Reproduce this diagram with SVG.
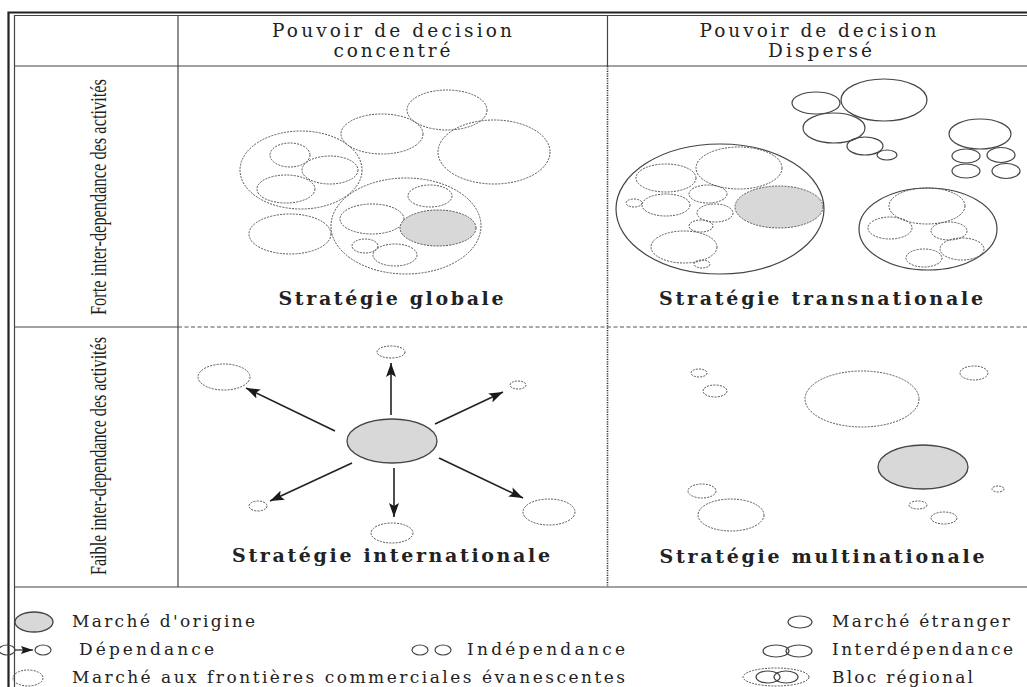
<svg xmlns="http://www.w3.org/2000/svg" width="1027" height="687" viewBox="0 0 1027 687">
  <style>
    .serif { font-family: "DejaVu Serif", "Liberation Serif", serif; fill: #222; }
    .narrow { font-family: "Liberation Serif", "DejaVu Serif", serif; fill: #1e1e1e; }
    .head { font-size: 18.5px; }
    .title { font-size: 19px; font-weight: bold; }
    .side { font-size: 24px; }
    .leg { font-size: 17px; }
    .dash { fill: none; stroke: #555; stroke-width: 1; stroke-dasharray: 2 1.2; }
    .solid { fill: none; stroke: #444; stroke-width: 1.2; }
    .home-d { fill: #d8d8d8; stroke: #555; stroke-width: 1; stroke-dasharray: 2 1.2; }
    .home-s { fill: #d8d8d8; stroke: #444; stroke-width: 1.3; }
    .arrow { stroke: #222; stroke-width: 1.6; fill: none; marker-end: url(#head); }
    .frame { stroke: #222; stroke-width: 2.2; fill: none; }
    .rule { stroke: #444; stroke-width: 1.2; fill: none; }
  </style>
  <defs>
    <marker id="head" markerUnits="userSpaceOnUse" markerWidth="15" markerHeight="10" refX="14" refY="5" orient="auto">
      <path d="M0,0 L14,5 L0,10 L3,5 z" fill="#1a1a1a"/>
    </marker>
    <marker id="head-sm" markerUnits="userSpaceOnUse" markerWidth="12" markerHeight="8" refX="12" refY="4" orient="auto">
      <path d="M0,0 L12,4 L0,8 L2,4 z" fill="#1a1a1a"/>
    </marker>
  </defs>
  <rect width="1027" height="687" fill="#ffffff"/>

  <!-- table frame and rules -->
  <g id="grid">
    <path class="frame" d="M8.5,687 V12.5 H1027"/>
    <path class="rule" d="M14.5,687 V15.5 H1027"/>
    <line class="rule" x1="14.5" y1="66" x2="1027" y2="66"/>
    <line class="rule" x1="178" y1="15.5" x2="178" y2="587"/>
    <line class="rule" x1="607.5" y1="15.5" x2="607.5" y2="66"/>
    <line x1="607.5" y1="66" x2="607.5" y2="587" stroke="#333" stroke-width="1.6" stroke-dasharray="1.2 1.2"/>
    <line class="rule" x1="14.5" y1="327" x2="178" y2="327"/>
    <line x1="178" y1="327" x2="1027" y2="327" stroke="#555" stroke-width="1" stroke-dasharray="4 2.5"/>
    <line class="rule" x1="14.5" y1="587" x2="1027" y2="587"/>
  </g>

  <!-- column and row headings -->
  <g id="col-concentre">
    <text class="serif head" x="392" y="37" text-anchor="middle" textLength="240">Pouvoir de decision</text>
    <text class="serif head" x="392" y="57" text-anchor="middle" textLength="117">concentré</text>
  </g>
  <g id="col-disperse">
    <text class="serif head" x="818" y="37" text-anchor="middle" textLength="237">Pouvoir de decision</text>
    <text class="serif head" x="820" y="57" text-anchor="middle" textLength="104">Dispersé</text>
  </g>
  <g id="row-forte">
    <text class="narrow side" transform="translate(106,197) rotate(-90)" text-anchor="middle" textLength="236" lengthAdjust="spacingAndGlyphs">Forte inter-dependance des activités</text>
  </g>
  <g id="row-faible">
    <text class="narrow side" transform="translate(106,456) rotate(-90)" text-anchor="middle" textLength="238" lengthAdjust="spacingAndGlyphs">Faible inter-dependance des activités</text>
  </g>

  <!-- global strategy -->
  <g id="globale">
    <ellipse class="dash" cx="494" cy="152" rx="56" ry="32"/>
    <ellipse class="dash" cx="447" cy="110" rx="40" ry="20"/>
    <ellipse class="dash" cx="382" cy="134" rx="41" ry="20"/>
    <ellipse class="dash" cx="301" cy="170" rx="61" ry="39"/>
    <ellipse class="dash" cx="290" cy="155" rx="20" ry="12"/>
    <ellipse class="dash" cx="330" cy="170" rx="28" ry="14"/>
    <ellipse class="dash" cx="286" cy="189" rx="29" ry="14"/>
    <ellipse class="dash" cx="290" cy="234" rx="41" ry="20"/>
    <ellipse class="dash" cx="406" cy="226" rx="75" ry="48"/>
    <ellipse class="dash" cx="430" cy="196" rx="22" ry="11"/>
    <ellipse class="dash" cx="372" cy="219" rx="32" ry="15"/>
    <ellipse class="home-d" cx="438" cy="228" rx="38" ry="18"/>
    <ellipse class="dash" cx="365" cy="246" rx="13" ry="7"/>
    <ellipse class="dash" cx="395" cy="255" rx="22" ry="11"/>
    <text class="serif title" x="391" y="305" text-anchor="middle" textLength="225">Stratégie globale</text>
  </g>

  <!-- transnational strategy -->
  <g id="transnationale">
    <ellipse class="solid" cx="816" cy="103" rx="24" ry="11"/>
    <ellipse class="solid" cx="884" cy="100" rx="43" ry="21"/>
    <ellipse class="solid" cx="834" cy="128" rx="31" ry="15"/>
    <ellipse class="solid" cx="865" cy="146" rx="18" ry="9"/>
    <ellipse class="solid" cx="887" cy="155" rx="10" ry="5"/>
    <ellipse class="solid" cx="980" cy="134" rx="31" ry="15"/>
    <ellipse class="solid" cx="966" cy="156" rx="14" ry="7"/>
    <ellipse class="solid" cx="1001" cy="155" rx="14" ry="7.5"/>
    <ellipse class="solid" cx="966" cy="171" rx="14" ry="7"/>
    <ellipse class="solid" cx="1006" cy="171" rx="14" ry="7.5"/>

    <ellipse class="solid" cx="720" cy="209" rx="104" ry="65"/>
    <ellipse class="dash" cx="739" cy="168" rx="43" ry="21"/>
    <ellipse class="dash" cx="666" cy="178" rx="30" ry="14"/>
    <ellipse class="dash" cx="708" cy="194" rx="19" ry="9"/>
    <ellipse class="home-d" cx="779" cy="207" rx="44" ry="21"/>
    <ellipse class="dash" cx="666" cy="205" rx="24" ry="11"/>
    <ellipse class="dash" cx="634" cy="203" rx="8" ry="4"/>
    <ellipse class="dash" cx="715" cy="213" rx="18" ry="9"/>
    <ellipse class="dash" cx="701" cy="226" rx="12" ry="6"/>
    <ellipse class="dash" cx="684" cy="247" rx="33" ry="16"/>
    <ellipse class="dash" cx="702" cy="264" rx="8" ry="4"/>

    <ellipse class="solid" cx="928" cy="229" rx="69" ry="41"/>
    <ellipse class="dash" cx="927" cy="206" rx="38" ry="18"/>
    <ellipse class="dash" cx="890" cy="228" rx="22" ry="11"/>
    <ellipse class="dash" cx="949" cy="231" rx="18" ry="9"/>
    <ellipse class="dash" cx="962" cy="249" rx="22" ry="11"/>
    <ellipse class="dash" cx="924" cy="258" rx="18" ry="9"/>
    <text class="serif title" x="821" y="305" text-anchor="middle" textLength="324">Stratégie transnationale</text>
  </g>

  <!-- international strategy -->
  <g id="internationale">
    <ellipse class="home-s" cx="392" cy="441" rx="45" ry="22"/>
    <ellipse class="dash" cx="391" cy="352" rx="14" ry="6"/>
    <ellipse class="dash" cx="224" cy="377" rx="26" ry="13"/>
    <ellipse class="dash" cx="518" cy="385" rx="8" ry="4"/>
    <ellipse class="dash" cx="258" cy="506" rx="9" ry="5"/>
    <ellipse class="dash" cx="392" cy="533" rx="21" ry="10"/>
    <ellipse class="dash" cx="549" cy="512" rx="26" ry="13"/>
    <text class="serif title" x="391" y="562" text-anchor="middle" textLength="318">Stratégie internationale</text>
  </g>

  <!-- multinational strategy -->
  <g id="multinationale">
    <ellipse class="dash" cx="699" cy="373" rx="8" ry="4"/>
    <ellipse class="dash" cx="715" cy="391" rx="12" ry="6"/>
    <ellipse class="dash" cx="862" cy="399" rx="57" ry="28"/>
    <ellipse class="dash" cx="974" cy="373" rx="14" ry="7"/>
    <ellipse class="home-s" cx="923" cy="467" rx="45" ry="22"/>
    <ellipse class="dash" cx="998" cy="489" rx="6" ry="3"/>
    <ellipse class="dash" cx="702" cy="491" rx="14" ry="7"/>
    <ellipse class="dash" cx="731" cy="515" rx="33" ry="16"/>
    <ellipse class="dash" cx="918" cy="505" rx="9" ry="4"/>
    <ellipse class="dash" cx="944" cy="518" rx="13" ry="6"/>
    <text class="serif title" x="822" y="563" text-anchor="middle" textLength="325">Stratégie multinationale</text>
  </g>

  <!-- dependency arrows from the home market -->
  <g id="connectors">
    <line class="arrow" x1="391" y1="415" x2="391" y2="363"/>
    <line class="arrow" x1="335" y1="431" x2="246" y2="388"/>
    <line class="arrow" x1="435" y1="424" x2="503" y2="392"/>
    <line class="arrow" x1="352" y1="463" x2="270" y2="501"/>
    <line class="arrow" x1="394" y1="468" x2="394" y2="517"/>
    <line class="arrow" x1="439" y1="458" x2="523" y2="498"/>
    <line x1="15" y1="650" x2="33" y2="650" stroke="#222" stroke-width="1.2" marker-end="url(#head-sm)"/>
  </g>

  <!-- legend -->
  <g id="legend-origine">
    <ellipse class="home-s" cx="34" cy="622" rx="19" ry="10"/>
    <text class="serif leg" x="72" y="627" textLength="183">Marché d'origine</text>
  </g>
  <g id="legend-dependance">
    <ellipse class="solid" cx="7" cy="650" rx="8" ry="5"/>
    <ellipse class="solid" cx="43" cy="650" rx="8" ry="5"/>
    <text class="serif leg" x="79" y="655" textLength="135">Dépendance</text>
  </g>
  <g id="legend-independance">
    <ellipse class="solid" cx="420" cy="650" rx="8" ry="5"/>
    <ellipse class="solid" cx="443" cy="650" rx="8" ry="5"/>
    <text class="serif leg" x="467" y="655" textLength="158">Indépendance</text>
  </g>
  <g id="legend-evanescent">
    <ellipse class="dash" cx="28" cy="678" rx="15" ry="8"/>
    <text class="serif leg" x="72" y="683" textLength="553">Marché aux frontières commerciales évanescentes</text>
  </g>
  <g id="legend-etranger">
    <ellipse class="solid" cx="800" cy="622" rx="12" ry="6"/>
    <text class="serif leg" x="832" y="627" textLength="178">Marché étranger</text>
  </g>
  <g id="legend-interdependance">
    <ellipse class="solid" cx="776" cy="651" rx="13" ry="6"/>
    <ellipse class="solid" cx="799" cy="651" rx="13" ry="6"/>
    <text class="serif leg" x="832" y="655" textLength="181">Interdépendance</text>
  </g>
  <g id="legend-bloc">
    <ellipse class="dash" cx="776" cy="677" rx="33" ry="9"/>
    <ellipse class="solid" cx="768" cy="677" rx="12" ry="6"/>
    <ellipse class="solid" cx="786" cy="677" rx="12" ry="6"/>
    <text class="serif leg" x="832" y="683" textLength="141">Bloc régional</text>
  </g>
</svg>
